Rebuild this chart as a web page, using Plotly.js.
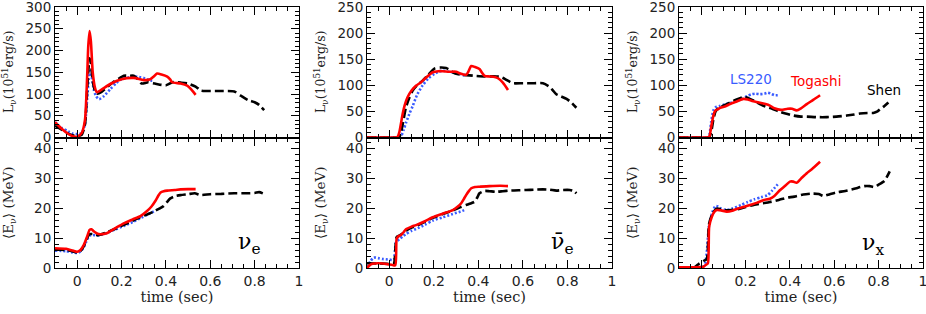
<!DOCTYPE html>
<html>
<head>
<meta charset="utf-8">
<script src="https://cdn.plot.ly/plotly-3.0.1.min.js"></script>
<style>html,body{margin:0;padding:0;background:#fff;}#chart{width:926px;height:314px;}</style>
</head>
<body>
<div id="chart"></div>
<script>
// ---------- DATA (time in sec; L in 1e51 erg/s; E in MeV) ----------
// Panel 1: nu_e
const t_nue_L_shen = [-0.1,-0.07,-0.04,-0.02,0.0,0.02,0.035,0.045,0.052,0.056,0.062,0.07,0.08,0.09,0.11,0.14,0.17,0.19,0.21,0.235,0.255,0.275,0.29,0.32,0.35,0.38,0.4,0.43,0.47,0.5,0.534,0.557,0.587,0.65,0.708,0.738,0.77,0.8,0.82,0.843];
const L_nue_shen   = [27,18,9,5,3,6,30,110,165,182,170,130,108,101,105,118,130,136,142,142,142,133,124,127,124,121,120,127,126,124,117,108,107,107,106,96,86,81,75,63];
const t_nue_L_ls   = [-0.1,-0.07,-0.04,-0.02,0.0,0.02,0.035,0.045,0.052,0.057,0.065,0.075,0.085,0.099,0.12,0.149,0.175,0.2,0.23,0.255,0.28,0.3,0.33,0.345];
const L_nue_ls     = [35,22,14,9,8,10,30,90,135,153,140,110,95,88,95,111,125,134,138,140,139,137,131,130];
const t_nue_L_tog  = [-0.1,-0.07,-0.04,-0.02,0.0,0.02,0.035,0.045,0.05,0.056,0.062,0.07,0.08,0.089,0.11,0.149,0.2,0.255,0.3,0.33,0.345,0.36,0.38,0.406,0.42,0.428,0.466,0.496,0.515,0.534];
const L_nue_tog    = [35,20,8,3,2,10,40,140,210,245,220,150,115,104,110,123,134,137,132,134,140,147,145,140,133,127,124,119,110,98];

const t_nue_E_tog  = [-0.1,-0.05,-0.02,0.0,0.015,0.03,0.045,0.056,0.065,0.072,0.085,0.097,0.115,0.133,0.17,0.21,0.25,0.285,0.315,0.335,0.353,0.365,0.376,0.39,0.406,0.44,0.466,0.5,0.534];
const E_nue_tog    = [6.6,6.4,5.8,5.4,6.0,7.7,10.5,12.7,12.9,12.4,11.7,11.3,11.3,11.6,13.2,14.9,16.2,17.3,19.0,20.5,22.4,24.0,25.2,25.6,25.8,26.0,26.2,26.3,26.3];
const t_nue_E_shen = [-0.1,-0.05,-0.02,0.0,0.015,0.03,0.045,0.056,0.07,0.085,0.1,0.13,0.17,0.21,0.25,0.285,0.32,0.345,0.37,0.39,0.405,0.42,0.44,0.466,0.5,0.53,0.557,0.6,0.65,0.708,0.76,0.8,0.82,0.843];
const E_nue_shen   = [6.2,6.0,5.5,5.2,5.7,7.3,10.0,11.3,11.3,11.0,11.0,11.8,13.0,14.4,15.7,17.0,18.0,18.8,19.8,20.7,22.0,23.2,23.9,24.3,24.6,24.9,24.3,24.6,24.7,24.9,24.9,25.0,25.3,24.7];
const t_nue_E_ls   = [-0.1,-0.05,-0.02,0.0,0.015,0.03,0.045,0.056,0.07,0.085,0.1,0.13,0.17,0.21,0.25,0.285,0.32,0.353];
const E_nue_ls     = [5.8,5.6,5.2,5.0,5.5,7.0,9.5,10.8,11.0,10.9,10.9,11.6,12.8,14.0,15.3,16.6,17.9,19.1];

// Panel 2: anti nu_e
const t_anue_L_tog  = [-0.1,0.0,0.03,0.037,0.045,0.06,0.07,0.082,0.1,0.12,0.14,0.158,0.18,0.195,0.22,0.24,0.27,0.3,0.315,0.33,0.345,0.355,0.368,0.385,0.405,0.415,0.428,0.45,0.473,0.49,0.51,0.533];
const L_anue_tog    = [0,0,0,1,10,45,63,77,90,99,105,112,120,125,127,127,126,126,123,121,120,126,137,135,131,125,118,117,116,113,105,91];
const t_anue_L_shen = [-0.1,0.0,0.04,0.05,0.06,0.075,0.09,0.105,0.125,0.15,0.175,0.203,0.23,0.255,0.27,0.285,0.31,0.33,0.36,0.39,0.43,0.48,0.5,0.52,0.54,0.555,0.6,0.65,0.69,0.72,0.735,0.75,0.77,0.796,0.82,0.84];
const L_anue_shen   = [0,0,0,5,25,58,76,90,100,109,120,132,134,133,130,125,121,120,119,118,117,117,116,112,107,104,104,104,104,97,90,83,79,74,66,57];
const t_anue_L_ls   = [-0.1,0.0,0.045,0.055,0.065,0.075,0.09,0.105,0.125,0.15,0.175,0.203,0.22,0.24,0.27,0.3,0.32,0.345];
const L_anue_ls     = [0,0,0,4,15,28,45,60,82,100,113,122,126,128,126,124,121,118];

const t_anue_E_tog  = [-0.1,-0.09,-0.075,-0.05,-0.03,-0.01,0.015,0.027,0.033,0.04,0.052,0.065,0.075,0.1,0.12,0.16,0.195,0.24,0.285,0.305,0.323,0.335,0.345,0.358,0.368,0.385,0.405,0.45,0.5,0.533];
const E_anue_tog    = [0,0.8,1.4,1.6,1.5,1.3,1.0,0.9,9.7,10.5,11.0,12.0,12.9,13.8,14.3,15.6,16.9,18.1,19.3,20.3,21.6,23.0,24.3,25.7,26.6,27.0,27.1,27.3,27.4,27.3];
const t_anue_E_shen = [-0.1,-0.05,-0.01,0.02,0.027,0.033,0.045,0.06,0.075,0.1,0.12,0.16,0.195,0.24,0.285,0.32,0.345,0.365,0.383,0.395,0.405,0.428,0.45,0.48,0.51,0.54,0.58,0.615,0.65,0.69,0.72,0.75,0.78,0.81,0.83,0.84];
const E_anue_shen   = [1.6,1.5,1.4,1.4,6,10.3,10.8,11.5,12.4,13.5,14.0,15.4,16.7,18.0,19.2,20.3,21.0,21.5,22.1,23.5,24.9,25.7,25.6,25.4,25.6,25.8,25.9,26.0,26.1,26.2,26.1,25.8,26.0,26.0,25.6,24.9];
const t_anue_E_ls   = [-0.1,-0.085,-0.07,-0.05,-0.03,0.0,0.02,0.03,0.045,0.06,0.075,0.1,0.12,0.16,0.195,0.24,0.285,0.32,0.34];
const E_anue_ls     = [0.3,2.2,3.5,3.3,3.0,2.8,2.7,8.5,9.6,10.5,11.3,12.4,13.0,14.4,15.8,16.9,18.0,18.8,19.4];

// Panel 3: nu_x
const t_nux_L_tog  = [-0.1,0.0,0.03,0.037,0.045,0.055,0.063,0.075,0.086,0.11,0.13,0.16,0.19,0.21,0.23,0.25,0.27,0.29,0.31,0.33,0.36,0.39,0.41,0.43,0.45,0.476,0.505,0.536];
const L_nux_tog    = [0,0,0,2,20,42,51,54,57,60,64,69,74,73,70,68,66,64,61,56,53,55,55,52,56,64,72,81];
const t_nux_L_shen = [-0.1,0.0,0.035,0.045,0.055,0.065,0.08,0.105,0.13,0.16,0.185,0.198,0.215,0.24,0.27,0.29,0.32,0.35,0.38,0.416,0.45,0.476,0.52,0.566,0.61,0.656,0.69,0.716,0.75,0.776,0.795,0.806,0.825,0.844];
const L_nux_shen   = [0,0,0,10,35,50,57,62,67,73,77,78,75,70,63,59,55,50,46,42,40,40,39,39,40,42,44,46,47,47,50,54,60,67];
const t_nux_L_ls   = [-0.1,0.0,0.03,0.037,0.045,0.055,0.065,0.08,0.105,0.13,0.16,0.19,0.21,0.228,0.245,0.265,0.285,0.3,0.315,0.33,0.345];
const L_nux_ls     = [0,0,0,5,30,52,58,60,63,66,70,75,80,83,84,83,84,86,84,81,81];

const t_nux_E_tog  = [-0.1,0.0,0.01,0.02,0.03,0.036,0.048,0.06,0.07,0.09,0.115,0.14,0.16,0.19,0.22,0.25,0.28,0.31,0.33,0.356,0.38,0.4,0.415,0.43,0.45,0.476,0.5,0.536];
const E_nux_tog    = [0.2,0.3,0.4,1.0,1.5,13.8,17.1,18.8,19.3,19.2,18.8,19.1,19.7,20.3,21.0,21.7,22.6,23.1,24.0,26.0,27.5,28.8,28.8,28.4,29.8,31.6,33.0,35.4];
const t_nux_E_shen = [-0.1,-0.03,-0.01,0.01,0.025,0.035,0.05,0.07,0.09,0.115,0.14,0.17,0.2,0.24,0.28,0.31,0.35,0.385,0.42,0.46,0.5,0.53,0.55,0.58,0.61,0.65,0.69,0.736,0.76,0.78,0.8,0.826,0.85];
const E_nux_shen   = [0,0.3,1.4,2.3,3.0,14.5,18.0,19.8,19.6,19.2,19.4,19.7,20.3,21.1,21.6,22.0,22.7,23.4,23.8,24.5,24.8,24.7,24.0,24.6,25.2,25.7,26.4,27.3,27.3,27.0,27.8,29.0,32.2];
const t_nux_E_ls   = [-0.1,0.0,0.015,0.025,0.035,0.05,0.065,0.075,0.09,0.115,0.14,0.18,0.21,0.24,0.27,0.3,0.32,0.345];
const E_nux_ls     = [0,0.3,0.8,5,14,18.5,20.7,20.5,19.8,19.3,19.8,21.0,22.0,22.9,23.6,24.3,25.8,27.9];

const modelNames = ['Shen','LS220','Togashi'];
const flavorLabels = ['\u03BD<sub>e</sub>','\u03BD\u0304<sub>e</sub>','\u03BD<sub>x</sub>'];
const xTitle = 'time (sec)';
const yTitleL = 'L<sub>\u03BD</sub>(10<sup>51</sup>erg/s)';
const yTitleE = '\u27E8E<sub>\u03BD</sub>\u27E9 (MeV)';
const xTickVals = [0, 0.2, 0.4, 0.6, 0.8, 1];
const xTickText = ['0', '0.2', '0.4', '0.6', '0.8', '1'];

// ---------- STYLES ----------
const FONT = 'DejaVu Sans, sans-serif';
const TFONT = 'DejaVu Serif, serif';
const sty = {
  Shen:    {color:'#000000', width:2.6, dash:'9px,4px'},
  LS220:   {color:'#3a5cff', width:2.6, dash:'2px,2px'},
  Togashi: {color:'#ff0000', width:2.6, dash:'solid'}
};

function tr(x, y, name, xa, ya){
  return {x:x, y:y, type:'scatter', mode:'lines', name:name, xaxis:xa, yaxis:ya,
          line:Object.assign({shape:'spline', smoothing:0.6}, sty[name]), showlegend:false, hoverinfo:'skip'};
}

const data = [
  tr(t_nue_L_ls, L_nue_ls, 'LS220', 'x', 'y'),
  tr(t_nue_L_shen, L_nue_shen, 'Shen', 'x', 'y'),
  tr(t_nue_L_tog, L_nue_tog, 'Togashi', 'x', 'y'),
  tr(t_nue_E_ls, E_nue_ls, 'LS220', 'x2', 'y2'),
  tr(t_nue_E_shen, E_nue_shen, 'Shen', 'x2', 'y2'),
  tr(t_nue_E_tog, E_nue_tog, 'Togashi', 'x2', 'y2'),
  tr(t_anue_L_ls, L_anue_ls, 'LS220', 'x3', 'y3'),
  tr(t_anue_L_shen, L_anue_shen, 'Shen', 'x3', 'y3'),
  tr(t_anue_L_tog, L_anue_tog, 'Togashi', 'x3', 'y3'),
  tr(t_anue_E_ls, E_anue_ls, 'LS220', 'x4', 'y4'),
  tr(t_anue_E_shen, E_anue_shen, 'Shen', 'x4', 'y4'),
  tr(t_anue_E_tog, E_anue_tog, 'Togashi', 'x4', 'y4'),
  tr(t_nux_L_ls, L_nux_ls, 'LS220', 'x5', 'y5'),
  tr(t_nux_L_shen, L_nux_shen, 'Shen', 'x5', 'y5'),
  tr(t_nux_L_tog, L_nux_tog, 'Togashi', 'x5', 'y5'),
  tr(t_nux_E_ls, E_nux_ls, 'LS220', 'x6', 'y6'),
  tr(t_nux_E_shen, E_nux_shen, 'Shen', 'x6', 'y6'),
  tr(t_nux_E_tog, E_nux_tog, 'Togashi', 'x6', 'y6')
];

const ML = 55, MR = 3, MT = 7, MB = 46, W = 926, H = 314;
const PW = W - ML - MR, PH = H - MT - MB;
const colPx = [[55,299],[367,612],[679,923]];
const colDom = colPx.map(c => [(c[0]-ML)/PW, Math.min(1,(c[1]-ML)/PW)]);

function xax(dom, anchor, labels){
  return {domain:dom, anchor:anchor, range:[-0.1,1.0], tickmode:'array', tickvals:xTickVals, ticktext:xTickText,
          ticks:'inside', ticklen:8, tickwidth:1, tickcolor:'#000', showticklabels:labels, mirror:'allticks', showline:true,
          linecolor:'#000', linewidth:1, showgrid:false, zeroline:false, ticklabeloverflow:'allow',
          minor:{ticks:'inside', ticklen:4, dtick:0.05, tick0:0, tickcolor:'#000', showgrid:false},
          tickfont:{family:FONT, size:14, color:'#222'},
          title: labels ? {text:xTitle, font:{family:TFONT, size:14.5, color:'#222'}, standoff:3} : {text:''}};
}
function yax(dom, anchor, rng, dt, mdt){
  return {domain:dom, anchor:anchor, range:rng, tick0:0, dtick:dt, ticks:'inside', ticklen:8,
          tickwidth:1, tickcolor:'#000', mirror:'allticks', showline:true, linecolor:'#000', linewidth:1,
          showgrid:false, zeroline:false, ticklabeloverflow:'allow',
          minor:{ticks:'inside', ticklen:4, dtick:mdt, tick0:0, tickcolor:'#000', showgrid:false},
          tickfont:{family:FONT, size:13.5, color:'#222'}};
}

const Etop = 130.5/3;
const layout = {
  width:W, height:H, margin:{l:ML, r:MR, t:MT, b:MB, pad:0},
  paper_bgcolor:'#fff', plot_bgcolor:'#fff', showlegend:false,
  xaxis:  xax(colDom[0], 'y', false),  yaxis:  yax([0.5,1], 'x', [0,300.01], 50, 10),
  xaxis2: xax(colDom[0], 'y2', true),  yaxis2: yax([0,0.5], 'x2', [0,Etop], 10, 2),
  xaxis3: xax(colDom[1], 'y3', false), yaxis3: yax([0.5,1], 'x3', [0,250.01], 50, 10),
  xaxis4: xax(colDom[1], 'y4', true),  yaxis4: yax([0,0.5], 'x4', [0,Etop], 10, 2),
  xaxis5: xax(colDom[2], 'y5', false), yaxis5: yax([0.5,1], 'x5', [0,250.01], 50, 10),
  xaxis6: xax(colDom[2], 'y6', true),  yaxis6: yax([0,0.5], 'x6', [0,Etop], 10, 2),
  annotations: []
};

function px2x(p){ return (p-ML)/PW; }
function py2y(p){ return (H-MB-p)/PH; }

// y titles
colPx.forEach((c, i) => {
  layout.annotations.push({xref:'paper', yref:'paper', x:px2x(c[0]-46), y:py2y(72), text:yTitleL,
    textangle:-90, showarrow:false, xanchor:'center', yanchor:'middle', font:{family:TFONT, size:12.5, color:'#222'}});
  layout.annotations.push({xref:'paper', yref:'paper', x:px2x(c[0]-46), y:py2y(203), text:yTitleE,
    textangle:-90, showarrow:false, xanchor:'center', yanchor:'middle', font:{family:TFONT, size:13.5, color:'#222'}});
});
// flavor labels
const flavPx = [[249,243],[562,243],[873,244]];
flavPx.forEach((p, i) => {
  layout.annotations.push({xref:'paper', yref:'paper', x:px2x(p[0]), y:py2y(p[1]), text:flavorLabels[i],
    showarrow:false, xanchor:'center', yanchor:'middle', font:{family:'DejaVu Serif, serif', size:22, color:'#000'}});
});
// model labels
const modelPx = {LS220:[751,79], Togashi:[815,81], Shen:[884,90]};
modelNames.forEach(n => {
  layout.annotations.push({xref:'paper', yref:'paper', x:px2x(modelPx[n][0]), y:py2y(modelPx[n][1]), text:n,
    showarrow:false, xanchor:'center', yanchor:'middle', font:{family:FONT, size:13.5, color:sty[n].color}});
});

Plotly.newPlot('chart', data, layout, {staticPlot:true, displayModeBar:false});
</script>
</body>
</html>
